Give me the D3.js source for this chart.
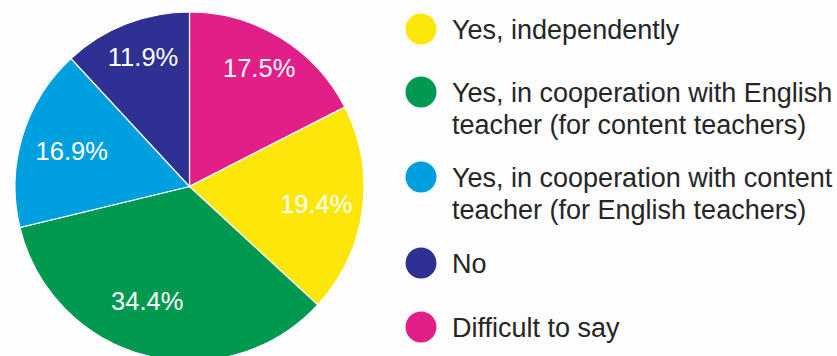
<!DOCTYPE html>
<html>
<head>
<meta charset="utf-8">
<script src="https://cdn.jsdelivr.net/npm/d3@7"></script>
<style>
  html, body { margin: 0; padding: 0; background: #fdfdfd; }
  svg { display: block; }
  text { font-family: "Liberation Sans", Arial, sans-serif; }
</style>
</head>
<body>
<svg id="chart" width="837" height="356"></svg>
<script>
// Survey answers (legend order)
const categories = [
  "Yes, independently",
  "Yes, in cooperation with English teacher (for content teachers)",
  "Yes, in cooperation with content teacher (for English teachers)",
  "No",
  "Difficult to say"
];
const legendLines = [
  ["Yes, independently"],
  ["Yes, in cooperation with English", "teacher (for content teachers)"],
  ["Yes, in cooperation with content", "teacher (for English teachers)"],
  ["No"],
  ["Difficult to say"]
];
const shares = [19.4, 34.4, 16.9, 11.9, 17.5];
const colors = ["#fde70b", "#00994f", "#00a0e0", "#2e3191", "#e21e89"];
// Slices run clockwise from 12 o'clock starting with "Difficult to say"
const pieOrder = [4, 0, 1, 2, 3];

// Layout
const cx = 189.5, cy = 186.5, radius = 174.5;
// per-slice label radius and angular nudge (radians)
const labelRadius = [128, 122, 123, 138, 138];
const labelNudge  = [0, 0.10, 0, 0.03, -0.02];

const svg = d3.select("#chart");

const rows = pieOrder.map(i => ({ i, name: categories[i], value: shares[i], color: colors[i] }));
const pie = d3.pie().sort(null).value(d => d.value);
const arcs = pie(rows);
const arc = d3.arc().innerRadius(0).outerRadius(radius);

const g = svg.append("g").attr("transform", `translate(${cx},${cy})`);

g.selectAll("path.slice")
  .data(arcs)
  .join("path")
  .attr("class", "slice")
  .attr("d", arc)
  .attr("fill", d => d.data.color)
  .attr("stroke", "#ffffff")
  .attr("stroke-width", 1.2);

g.selectAll("text.pct")
  .data(arcs)
  .join("text")
  .attr("class", "pct")
  .attr("x", d => {
    const a = (d.startAngle + d.endAngle) / 2 + labelNudge[d.data.i];
    return labelRadius[d.data.i] * Math.sin(a);
  })
  .attr("y", d => {
    const a = (d.startAngle + d.endAngle) / 2 + labelNudge[d.data.i];
    return -labelRadius[d.data.i] * Math.cos(a);
  })
  .attr("dy", "0.36em")
  .attr("text-anchor", "middle")
  .attr("fill", "#ffffff")
  .attr("font-size", "25.5px")
  .text(d => d3.format(".1f")(d.data.value) + "%");

// Legend
const legendX = 421, textX = 452;
const markerY = [29, 92, 177, 263, 327];
const lineH = 32.5;

const items = svg.selectAll("g.item")
  .data(categories.map((c, i) => ({ i, lines: legendLines[i], color: colors[i] })))
  .join("g")
  .attr("class", "item");

items.append("circle")
  .attr("cx", legendX)
  .attr("cy", d => markerY[d.i])
  .attr("r", 15.5)
  .attr("fill", d => d.color);

items.append("text")
  .attr("x", textX)
  .attr("y", d => markerY[d.i] + 9.5)
  .attr("fill", "#262626")
  .attr("font-size", "27px")
  .selectAll("tspan")
  .data(d => d.lines)
  .join("tspan")
  .attr("x", textX)
  .attr("dy", (d, k) => k === 0 ? 0 : lineH)
  .text(d => d);
</script>
</body>
</html>
